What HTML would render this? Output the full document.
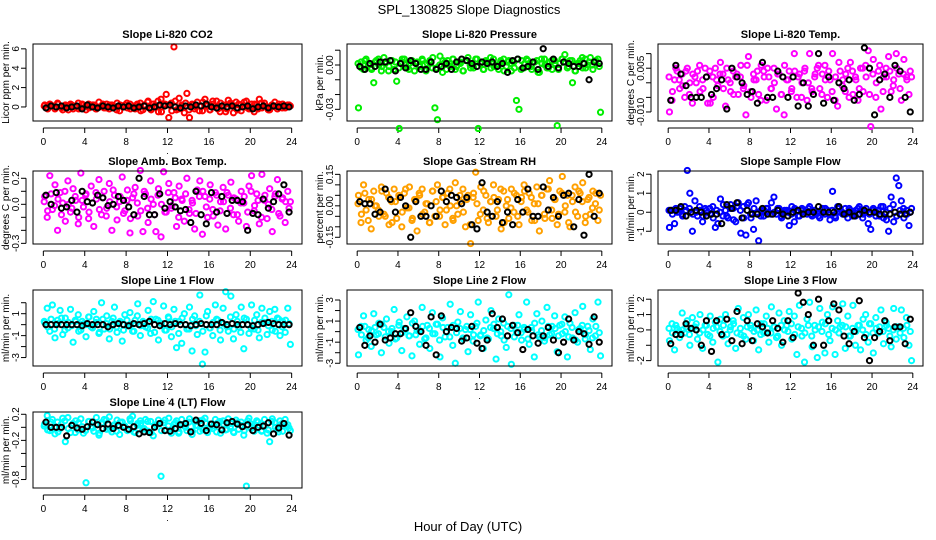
<!DOCTYPE html>
<html><head><meta charset="utf-8"><style>
html,body{margin:0;padding:0;background:#fff;}
svg{display:block;font-family:"Liberation Sans",sans-serif;}
</style></head><body>
<svg id="chart" width="936" height="540" viewBox="0 0 936 540" xmlns="http://www.w3.org/2000/svg">
<rect width="936" height="540" fill="#fff"/>
<text x="469" y="14" font-size="13" text-anchor="middle">SPL_130825  Slope Diagnostics</text>
<text x="468" y="531" font-size="13" text-anchor="middle">Hour of Day (UTC)</text>
</svg>
<script>
// ---- data (colored = all samples, core = additional samples, black = subset) ----
const co2Colored=[0.2,-0.1,0.3,0.1,-0.2,0.4,0.0,-0.3,0.2,0.1,0.3,-0.2,0.1,0.4,-0.1,0.2,-0.3,0.3,0.0,0.2,-0.2,0.5,0.1,-0.1,0.3,-0.2,0.2,0.0,0.4,-0.4,0.1,0.2,-0.1,0.3,0.0,-0.2,0.2,0.4,-0.3,0.1,0.6,-0.2,0.3,0.1,-0.5,0.8,0.2,1.3,-1.1,0.4,6.2,-0.3,0.9,0.2,-0.6,1.4,-1.1,0.3,-0.2,0.5,0.1,-0.4,0.8,0.2,-0.3,0.6,0.1,-0.2,0.4,0.0,-0.5,0.7,0.2,-0.6,0.5,0.3,-0.4,0.1,0.6,-0.2,0.3,-0.5,0.2,0.8,-0.1,0.4,0.0,-0.3,0.2,0.5,-0.2,0.1,0.3,-0.1,0.2,0.1];
const co2Core=[0.1,-0.2,0.2,0.0,0.3,-0.1,0.1,-0.3,0.2,0.0,-0.2,0.3,0.1,-0.1,0.2,-0.2,0.0,0.3,-0.1,0.2,0.1,-0.3,0.2,0.0,0.4,-0.2,0.1,0.3,-0.4,0.2,0.5,-0.3,0.1,0.6,-0.5,0.3,0.2,-0.4,0.6,-0.2,0.1,0.4,-0.3,0.2,0.0,-0.4,0.5,0.1,-0.3,0.3,0.6,-0.5,0.2,-0.2,0.4,0.1,-0.3,0.2,0.5,-0.1,0.0,0.3,-0.2,0.4,0.1,-0.3,0.2,0.0,0.3,-0.1,0.1,0.2];
const co2Black=[-0.1,0.1,0.0,0.1,-0.1,0.0,0.1,-0.2,0.2,0.0,-0.1,0.1,0.0,-0.1,0.1,0.0,0.1,-0.1,0.0,0.1,-0.1,0.0,0.2,0.1,0.2,0.0,-0.1,0.1,0.0,0.2,0.1,0.3,0.0,-0.1,0.1,0.0,0.1,-0.1,0.0,0.1,-0.2,0.0,0.1,-0.1,0.1,0.0,0.1,0.0];
const presColored=[-0.029,0.002,-0.003,0.004,0.001,-0.002,-0.012,0.003,0.000,-0.004,0.005,0.002,-0.001,0.003,-0.003,-0.011,-0.043,0.002,0.004,-0.002,0.001,0.003,-0.004,0.002,0.000,0.004,-0.003,0.001,0.003,-0.002,-0.029,-0.037,0.006,-0.005,0.002,0.003,-0.001,0.004,-0.003,0.002,0.001,-0.004,0.003,0.005,-0.002,0.000,0.004,-0.043,0.002,-0.003,0.003,0.001,-0.002,0.004,0.000,-0.003,0.002,0.004,-0.001,0.003,-0.004,0.002,-0.024,-0.030,0.003,-0.002,0.004,0.001,-0.003,0.002,0.003,-0.005,0.001,0.004,-0.002,0.002,-0.003,0.003,-0.041,0.001,0.004,0.007,-0.002,0.003,-0.012,-0.004,0.001,0.003,-0.002,0.004,0.000,0.005,-0.003,0.002,0.004,-0.032];
const presCore=[0.001,-0.002,0.003,0.000,-0.003,0.002,0.004,-0.001,0.001,-0.004,0.003,0.002,-0.002,0.004,0.000,-0.003,0.002,0.001,-0.001,0.003,-0.004,0.002,0.005,-0.002,0.000,0.003,-0.003,0.001,0.004,-0.001,0.002,-0.004,0.003,0.000,-0.002,0.004,0.001,-0.003,0.002,0.005,-0.001,0.000,0.003,-0.004,0.002,0.001,-0.002,0.004,-0.003,0.001,0.003,-0.001,0.002,-0.005,0.004,0.000,-0.002,0.003,0.001,-0.003,0.004,0.002,-0.001,0.003,-0.004,0.001,0.005,-0.002,0.002,0.000,0.003,-0.001];
const presBlack=[-0.001,-0.003,0.001,-0.001,0.002,0.002,0.003,-0.004,0.001,-0.002,0.003,0.001,-0.003,-0.003,0.002,-0.003,-0.001,0.001,-0.003,0.002,0.004,0.003,0.001,-0.001,0.002,0.001,0.002,-0.001,0.001,-0.005,0.003,0.004,-0.002,-0.001,0.002,-0.003,0.011,-0.001,0.004,-0.002,0.002,0.001,-0.001,-0.001,0.001,-0.010,0.002,0.001];
const tempColored=[-0.010,-0.006,0.001,0.004,-0.002,0.003,-0.005,0.005,0.000,-0.007,0.002,0.004,-0.003,0.001,0.005,-0.007,-0.007,0.002,0.005,-0.001,0.007,0.003,-0.008,0.001,-0.003,0.004,0.002,-0.004,0.006,-0.002,-0.011,0.009,-0.005,0.003,0.001,-0.004,0.006,0.004,-0.006,0.002,-0.002,0.005,-0.009,0.003,-0.004,-0.011,0.001,0.004,-0.002,0.010,-0.005,0.003,0.000,0.004,-0.006,0.010,-0.003,0.002,0.005,-0.002,0.003,0.006,-0.005,0.001,0.010,-0.006,-0.008,0.004,0.001,-0.003,0.005,0.007,-0.004,0.002,-0.006,0.005,-0.003,0.006,0.011,-0.015,0.008,-0.005,0.004,-0.009,0.002,0.005,0.009,-0.003,0.001,0.010,0.003,-0.006,0.008,0.002,-0.004,0.002];
const tempCore=[0.002,-0.003,0.005,0.001,-0.001,0.004,-0.004,0.003,0.000,0.006,-0.002,0.002,0.004,-0.005,0.001,0.003,-0.002,0.005,0.000,-0.004,0.003,0.002,-0.001,0.006,-0.003,0.001,0.004,-0.006,0.002,0.005,-0.002,0.000,0.003,-0.004,0.006,0.001,-0.003,0.004,0.002,-0.005,0.005,0.000,-0.002,0.003,0.006,-0.004,0.001,0.004,-0.003,0.002,0.007,-0.001,0.003,-0.005,0.004,0.001,-0.002,0.005,0.002,-0.004,0.003,0.000,0.006,-0.003,0.002,0.004,-0.001,0.005,-0.002,0.003,0.001,0.004];
const tempBlack=[-0.006,0.006,0.003,-0.001,-0.005,-0.005,-0.005,0.002,-0.004,-0.002,0.001,-0.009,0.005,0.002,0.000,-0.004,-0.003,-0.007,0.007,-0.005,-0.005,0.004,0.002,-0.005,0.002,-0.008,0.000,-0.008,-0.004,0.010,-0.007,0.002,-0.006,0.000,-0.002,0.001,-0.006,-0.004,0.012,0.005,-0.011,0.001,0.003,-0.005,0.006,0.004,-0.005,-0.010];
const ambColored=[0.06,-0.10,0.22,-0.04,0.15,-0.20,0.09,0.01,-0.13,0.18,-0.06,0.12,0.03,-0.15,0.24,-0.02,0.08,-0.11,0.14,-0.17,0.04,0.19,-0.08,0.10,-0.03,0.16,-0.20,0.07,-0.12,0.02,0.21,-0.05,0.11,-0.22,0.05,0.13,-0.09,0.26,-0.21,0.08,-0.14,0.18,0.00,-0.21,0.12,-0.25,0.25,-0.06,0.16,-0.03,0.09,-0.17,0.14,0.04,-0.13,0.20,-0.07,0.03,-0.19,0.11,0.18,-0.23,0.06,-0.10,0.15,-0.04,0.09,-0.16,0.02,0.13,-0.19,0.07,0.17,-0.08,0.04,-0.13,0.10,0.01,-0.17,0.14,0.22,-0.05,0.08,-0.15,0.23,0.03,-0.11,0.12,-0.21,0.06,0.19,-0.09,0.05,-0.14,0.10,0.02];
const ambCore=[0.02,-0.05,0.08,-0.01,0.04,-0.08,0.10,0.00,-0.03,0.06,-0.10,0.03,0.07,-0.06,0.01,0.09,-0.04,0.05,-0.09,0.02,0.11,-0.02,0.06,-0.07,0.03,-0.11,0.08,0.01,-0.05,0.10,-0.03,0.04,-0.08,0.07,0.00,-0.06,0.09,-0.01,0.05,-0.10,0.03,0.08,-0.04,0.01,-0.07,0.06,0.10,-0.02,0.04,-0.09,0.07,-0.05,0.02,0.09,-0.03,0.05,-0.08,0.01,0.06,-0.06,0.10,-0.01,0.03,-0.10,0.07,0.00,-0.04,0.08,-0.07,0.04,0.02,-0.03];
const ambBlack=[0.07,0.00,0.09,-0.03,-0.02,0.03,-0.06,0.10,0.02,0.01,0.07,0.05,-0.01,0.00,0.06,0.03,-0.02,-0.08,0.20,0.06,-0.08,-0.08,0.08,-0.03,0.02,-0.02,-0.05,-0.04,-0.14,0.10,-0.08,-0.15,0.09,-0.06,0.06,-0.07,0.03,0.03,0.02,-0.20,-0.07,-0.08,0.04,-0.03,0.02,0.08,0.15,-0.06];
const rhColored=[0.05,-0.08,0.10,-0.02,0.03,-0.11,0.07,0.00,-0.05,0.09,-0.04,0.06,-0.09,0.02,0.08,-0.06,0.04,-0.10,0.06,-0.01,0.09,-0.07,0.03,-0.12,0.05,0.08,-0.03,0.01,-0.08,0.07,-0.05,0.10,-0.02,0.04,-0.09,0.06,0.00,-0.06,0.11,-0.04,0.02,0.08,-0.10,0.05,-0.18,0.04,0.16,-0.07,0.09,-0.02,0.05,-0.08,0.02,0.10,-0.05,0.03,-0.11,0.07,0.00,-0.06,0.08,-0.03,0.05,-0.09,0.04,0.10,-0.02,0.06,-0.07,0.01,0.09,-0.12,0.05,-0.04,0.08,0.12,-0.06,0.03,-0.09,0.07,0.14,-0.03,0.05,-0.10,0.02,0.09,-0.05,0.06,0.11,-0.08,0.03,-0.04,0.07,0.01,-0.07,0.05];
const rhCore=[0.01,-0.04,0.06,-0.07,0.03,0.00,-0.02,0.07,-0.05,0.04,-0.08,0.02,0.05,-0.03,0.08,-0.01,-0.06,0.03,0.06,-0.04,0.01,-0.08,0.07,0.02,-0.05,0.04,-0.02,0.08,-0.07,0.00,0.05,-0.03,0.03,-0.09,0.06,0.01,-0.04,0.07,-0.06,0.02,0.04,-0.02,0.08,-0.08,0.03,-0.01,0.06,-0.05,0.02,0.07,-0.03,0.04,-0.07,0.01,0.05,-0.06,0.08,-0.02,0.03,-0.04,0.06,0.00,-0.08,0.05,-0.03,0.07,0.02,-0.05,0.04,-0.01,0.06,-0.02];
const rhBlack=[0.02,0.01,0.01,-0.04,-0.03,0.08,0.03,-0.03,0.04,0.00,-0.15,0.02,-0.05,-0.05,0.00,-0.05,0.07,0.02,0.05,0.04,0.01,0.04,-0.09,-0.11,0.11,-0.03,-0.05,0.02,-0.08,-0.03,-0.09,0.03,-0.03,0.08,-0.05,-0.05,0.09,-0.02,0.04,-0.05,0.05,0.06,-0.10,0.03,-0.14,0.15,-0.05,0.06];
const flowColored=[-0.8,0.1,-0.6,0.0,0.2,-0.1,0.3,2.2,1.0,-1.0,0.6,-0.2,0.1,-0.5,0.2,0.0,-0.1,0.3,-0.8,-0.6,0.7,-0.2,0.1,-0.3,0.4,0.2,-0.5,0.5,-1.1,0.3,-1.2,0.5,-0.3,-0.9,0.6,-1.5,0.1,-0.2,0.2,0.0,0.5,0.8,-0.1,0.2,-0.3,0.0,0.1,-0.7,0.3,-0.5,0.1,-0.2,0.2,0.0,-0.1,0.3,-0.2,0.1,0.0,-0.3,0.2,-0.1,0.1,-0.4,1.1,-0.2,0.3,0.0,-0.1,0.2,-0.3,0.1,0.0,-0.2,0.2,0.1,-0.1,0.0,-0.6,-0.9,0.2,-0.2,0.1,0.3,-0.3,0.0,-1.0,0.8,-0.5,1.8,1.4,0.6,-0.3,0.1,-0.7,0.2];
const flowCore=[0.1,-0.1,0.2,0.0,-0.2,0.1,0.2,-0.1,0.0,0.3,-0.2,0.1,0.2,-0.3,0.1,0.0,0.4,-0.2,0.2,-0.4,0.3,0.1,-0.3,0.4,-0.1,0.2,0.0,-0.2,0.1,0.2,-0.1,0.0,0.2,-0.2,0.1,0.0,-0.1,0.2,-0.2,0.1,0.0,0.2,-0.1,0.1,-0.2,0.0,0.2,-0.1,0.1,-0.3,0.2,0.0,-0.1,0.2,-0.2,0.1,0.3,-0.3,0.2,-0.1,0.1,0.0,-0.2,0.3,-0.4,0.2,0.4,-0.2,0.1,0.2,-0.1,0.0];
const flowBlack=[0.1,0.1,0.3,-0.2,0.0,0.1,0.0,-0.2,-0.1,-0.1,-0.6,0.4,0.2,0.5,-0.3,0.1,-0.1,-0.1,0.2,-0.1,-0.1,0.1,-0.1,-0.2,0.0,0.1,-0.1,0.0,0.0,0.3,0.0,0.0,0.0,0.3,-0.1,0.0,-0.2,-0.1,0.1,0.0,0.0,-0.1,-0.1,-0.1,0.0,-0.1,-0.1,0.0];
const line1Colored=[0.2,1.5,-0.6,1.8,-1.2,0.4,1.3,-0.9,0.6,-0.3,1.4,-1.6,0.3,0.9,-0.5,0.1,-1.1,0.7,-0.2,1.2,0.5,-0.8,2.0,-0.4,0.8,-1.3,0.3,1.6,-0.7,0.2,-1.5,0.9,-0.1,1.1,-0.6,0.4,1.9,-1.0,0.3,-0.2,1.3,-0.8,2.1,0.5,-1.4,0.1,1.7,-0.5,0.6,-1.1,1.4,-2.1,0.3,-1.7,1.0,-0.4,1.6,-2.4,0.8,-0.9,2.7,-3.6,-2.5,1.2,-0.3,-1.0,1.8,0.4,-1.4,1.5,3.0,-0.6,2.6,-1.3,0.9,-0.2,1.6,-2.2,0.5,-0.8,1.8,-0.4,0.9,-1.2,1.5,0.2,-0.9,1.2,-0.5,1.4,0.6,-1.0,0.3,-0.7,1.5,-1.8];
const line1Core=[0.3,-0.2,0.5,-0.4,0.1,0.6,-0.5,0.2,-0.1,0.4,-0.6,0.3,0.0,0.7,-0.3,0.2,-0.7,0.5,0.1,-0.4,0.6,-0.2,0.3,-0.5,0.4,0.0,-0.6,0.8,-0.1,0.2,-0.3,0.5,-0.7,0.4,0.1,-0.5,0.7,-0.2,0.3,-0.8,0.6,0.0,-0.4,0.5,-0.1,0.3,-0.6,0.8,-0.3,0.2,0.5,-0.5,0.1,-0.2,0.7,-0.4,0.3,-0.7,0.6,0.0,-0.3,0.4,-0.5,0.2,0.6,-0.1,0.3,-0.6,0.5,-0.2,0.4,0.1];
const line1Black=[0.0,0.0,0.0,0.0,0.0,0.0,0.0,-0.1,0.1,0.0,0.0,0.0,-0.2,0.0,0.1,0.0,-0.1,0.1,0.0,0.1,0.3,0.0,-0.1,0.1,0.0,0.1,0.0,0.0,-0.1,0.0,0.1,0.0,0.0,0.0,0.2,0.0,0.1,0.0,0.0,0.0,-0.1,0.0,0.1,0.2,0.1,0.0,0.0,0.0];
const line2Colored=[-2.2,0.5,1.5,-0.8,0.2,-1.4,1.7,-0.3,0.8,-2.0,0.4,1.2,-1.1,0.0,2.1,-0.6,0.9,-1.8,0.3,1.4,-0.4,-2.3,1.0,0.1,-1.2,2.3,-0.7,0.6,-1.6,1.8,-0.2,0.7,-2.4,1.3,-0.5,0.4,2.6,-1.3,-3.0,0.9,1.9,-0.6,0.2,-1.9,1.6,-0.9,0.5,2.8,-0.3,-1.6,1.1,-0.7,2.0,0.3,-2.6,1.2,-0.4,0.8,-1.5,3.5,-3.1,0.6,-0.1,1.6,-0.8,0.4,2.8,-1.2,0.1,-2.4,1.7,-0.5,1.0,-0.9,2.3,-0.3,0.5,1.5,-1.9,0.6,-0.2,1.4,-2.4,0.8,-0.6,1.8,-1.0,0.3,2.4,-0.7,0.5,-1.7,1.2,-0.4,2.8,-2.3];
const line2Core=[0.2,-0.3,0.5,-0.6,0.1,0.4,-0.2,0.7,-0.5,0.0,0.3,-0.7,0.6,-0.1,0.2,-0.4,0.8,-0.3,0.1,0.5,-0.6,0.3,-0.2,0.7,-0.8,0.4,0.0,-0.5,0.6,-0.1,0.3,-0.7,0.5,0.2,-0.3,0.8,-0.4,0.1,-0.6,0.4,0.7,-0.2,0.0,-0.8,0.5,0.3,-0.5,0.6,-0.1,0.2,-0.7,0.4,0.8,-0.3,0.1,-0.6,0.5,-0.2,0.3,-0.4,0.7,0.0,-0.5,0.4,-0.8,0.2,0.6,-0.3,0.1,-0.6,0.5,-0.1];
const line2Black=[0.4,-1.3,-0.4,-1.0,0.7,-0.8,-0.6,-0.2,-0.2,0.3,1.8,0.5,0.0,-1.3,1.4,-2.2,1.5,0.0,0.4,0.3,-0.9,-0.6,0.5,-1.1,-1.6,-0.8,1.7,0.4,1.2,-0.4,0.6,-0.1,-1.7,0.2,-0.4,-1.1,-0.4,0.4,-0.8,-2.0,-1.0,1.2,-0.8,0.0,-0.2,-1.2,1.4,-1.0];
const line3Colored=[-0.7,0.4,-1.3,0.1,-0.5,1.1,-0.2,0.6,-1.0,0.8,0.2,-0.6,1.0,-1.2,0.3,-0.3,0.9,-0.8,0.5,-2.1,0.7,-0.4,1.0,-0.9,0.2,0.6,-1.2,1.4,-0.3,0.8,-0.6,1.0,0.1,-0.7,1.3,-1.3,0.4,-0.2,0.9,-0.8,1.5,0.2,-0.5,1.1,-1.0,0.6,0.3,1.2,-0.6,0.9,-1.6,1.6,-0.4,-2.1,0.7,1.8,-1.1,0.3,-1.8,1.4,0.5,-1.5,1.0,-0.7,1.5,-1.6,0.6,0.2,1.7,-1.2,0.9,-0.4,1.6,-1.0,0.3,-1.3,0.7,1.0,-0.8,0.4,-1.5,0.8,-0.2,1.3,-0.9,0.5,0.1,-1.1,1.4,-0.6,0.2,1.3,-0.5,0.8,-1.0,-2.0];
const line3Core=[0.1,-0.2,0.3,-0.1,0.0,0.2,-0.3,0.1,0.4,-0.2,0.0,0.3,-0.4,0.1,0.2,-0.1,0.3,-0.3,0.0,0.4,-0.2,0.1,-0.4,0.2,0.3,-0.1,0.0,-0.3,0.4,0.1,-0.2,0.2,-0.4,0.3,0.0,-0.1,0.4,-0.3,0.2,0.1,-0.2,0.3,-0.4,0.0,0.2,-0.1,0.4,-0.3,0.1,0.0,-0.2,0.3,0.2,-0.4,0.1,-0.1,0.3,0.0,-0.3,0.4,-0.2,0.1,0.2,-0.1,0.3,-0.4,0.0,0.2,-0.2,0.1,0.3,-0.1];
const line3Black=[-0.9,-0.3,-0.3,0.4,0.1,0.0,-1.0,0.6,-1.4,0.6,-0.3,0.7,-0.7,1.2,-0.9,0.6,-0.7,0.4,0.2,-0.2,0.6,0.1,-0.8,0.6,-0.5,2.4,1.8,1.0,-1.0,2.0,-1.0,0.6,1.7,1.3,-0.4,-0.9,-0.1,1.9,-0.5,-2.0,-0.5,-0.1,0.6,-0.7,0.2,0.2,-0.9,0.7];
const line4Colored=[0.05,0.18,-0.05,0.12,-0.10,0.08,-0.02,0.14,-0.22,0.15,-0.08,0.06,0.10,-0.04,0.13,-0.09,-0.85,0.09,0.01,-0.06,0.15,-0.12,0.07,0.12,-0.03,0.16,-0.07,0.04,0.11,-0.11,0.08,0.02,-0.05,0.13,0.17,-0.08,0.06,0.10,-0.03,0.12,-0.06,0.09,-0.13,0.04,0.11,-0.75,0.07,-0.04,0.14,-0.09,0.05,0.10,-0.07,0.12,0.02,-0.05,0.13,-0.11,0.08,0.03,-0.06,0.11,0.14,-0.08,0.05,-0.02,0.12,0.07,-0.09,0.10,-0.04,0.13,0.06,-0.07,0.11,-0.03,0.08,-0.12,-0.90,0.14,0.05,-0.06,0.10,0.03,-0.05,0.12,-0.09,-0.22,0.13,0.07,-0.03,0.10,-0.06,0.12,0.04,-0.05];
const line4Core=[0.02,-0.04,0.08,0.00,-0.07,0.05,0.10,-0.02,0.03,-0.08,0.07,0.01,-0.05,0.09,-0.01,0.04,-0.09,0.06,0.11,-0.03,0.02,-0.06,0.08,0.00,-0.04,0.10,-0.07,0.03,0.06,-0.02,0.09,-0.08,0.01,0.05,-0.05,0.11,0.02,-0.03,0.07,-0.09,0.04,0.00,0.08,-0.06,0.03,0.10,-0.04,0.06,-0.01,0.02,-0.07,0.09,0.05,-0.03,0.01,-0.08,0.07,0.03,-0.05,0.10,-0.02,0.04,0.08,-0.06,0.02,-0.04,0.09,0.00,-0.07,0.06,0.03,-0.01];
const line4Black=[0.08,0.00,0.00,0.00,-0.13,0.03,-0.01,-0.03,0.01,0.08,0.04,-0.02,0.05,-0.02,0.03,0.00,-0.03,0.01,-0.10,-0.07,-0.08,0.00,0.06,-0.05,-0.06,-0.02,0.04,0.06,-0.07,0.11,0.06,-0.05,0.05,0.04,-0.04,0.07,0.09,0.05,0.01,0.04,-0.05,0.00,0.02,0.07,-0.10,-0.01,0.06,-0.12];
const xTicks=[0,4,8,12,16,20,24];
const panelTitles=["Slope Li-820 CO2","Slope Li-820 Pressure","Slope Li-820 Temp.","Slope Amb. Box Temp.","Slope Gas Stream RH","Slope Sample Flow","Slope Line 1 Flow","Slope Line 2 Flow","Slope Line 3 Flow","Slope Line 4 (LT) Flow"];
const yTitles=["Licor ppm per min.","kPa per min.","degrees C per min.","degrees C per min.","percent per min.","ml/min per min.","ml/min per min.","ml/min per min.","ml/min per min.","ml/min per min."];
const yTickVals=[[0,2,4,6],[0.01,0,-0.01,-0.02,-0.03],[0.01,0.005,0,-0.005,-0.01],[0.2,0.1,0,-0.1,-0.2,-0.3],[0.15,0.1,0.05,0,-0.05,-0.1,-0.15],[2,1,0,-1],[2,1,0,-1,-2,-3],[3,2,1,0,-1,-2,-3],[2,1,0,-1,-2],[0.2,0,-0.2,-0.4,-0.6,-0.8]];
const yTickLabels=[["0","2","4","6"],["","0.00","","","-0.03"],["","0.005","","","-0.010"],["0.2","","0.0","","","-0.3"],["0.15","","","0.00","","","-0.15"],["2","1","0","-1"],["","1","","-1","","-3"],["3","","1","","-1","","-3"],["2","1","0","","-2"],["0.2","","-0.2","","","-0.8"]];
const yRanges=[[-1.45,6.5],[-0.0379,0.0142],[-0.0131,0.0133],[-0.305,0.256],[-0.182,0.166],[-1.67,2.17],[-3.77,3.16],[-3.26,3.95],[-2.35,2.6],[-0.93,0.235]];
const coloredSeries=[co2Colored,presColored,tempColored,ambColored,rhColored,flowColored,line1Colored,line2Colored,line3Colored,line4Colored];
const coreSeries=[co2Core,presCore,tempCore,ambCore,rhCore,flowCore,line1Core,line2Core,line3Core,line4Core];
const blackSeries=[co2Black,presBlack,tempBlack,ambBlack,rhBlack,flowBlack,line1Black,line2Black,line3Black,line4Black];
const seriesColors=["#ff0000","#00ee00","#ff00ff","#ff00ff","#ffa000","#0000ff","#00ffff","#00ffff","#00ffff","#00ffff"];

// ---- layout ----
const colX=[[33,302],[347,612],[658,923]];
const rowY=[[44,121],[171,244],[290,366],[412,488]];
const NS="http://www.w3.org/2000/svg";
const svg=document.getElementById('chart');
function mk(tag,attrs,parent){const e=document.createElementNS(NS,tag);for(const k in attrs)e.setAttribute(k,attrs[k]);(parent||svg).appendChild(e);return e;}

panelTitles.forEach((title,p)=>{
  const [x0,x1]=colX[p%3];const [y0,y1]=rowY[Math.floor(p/3)];
  const [ymin,ymax]=yRanges[p];
  const xs=h=>x0+(h+1.0)/26*(x1-x0);
  const ys=v=>y1-(v-ymin)/(ymax-ymin)*(y1-y0);
  const g=mk('g',{});
  
  
  const t=mk('text',{x:(x0+x1)/2,y:y0-6,'font-size':11,'font-weight':'bold','text-anchor':'middle'},g);
  t.textContent=title;
  
  
  const yt=mk('text',{x:0,y:0,'font-size':10,'text-anchor':'middle',transform:`translate(${x0-24},${(y0+y1)/2}) rotate(-90)`},g);
  yt.textContent=yTitles[p];
  
  
  const xa=mk('g',{},g);
  
  
  mk('line',{x1:xs(0),x2:xs(24),y1:y1+7,y2:y1+7,stroke:'#000'},xa);
  xTicks.forEach(v=>{
    mk('line',{x1:xs(v),x2:xs(v),y1:y1+7,y2:y1+12,stroke:'#000'},xa);
    const l=mk('text',{x:xs(v),y:y1+24,'font-size':10,'text-anchor':'middle'},xa);
    l.textContent=String(v);
    
    
  });
  const dot=mk('text',{x:(x0+x1)/2,y:y1+33,'font-size':9,'text-anchor':'middle'},xa);
  dot.textContent='.';
  const ya=mk('g',{},g);
  
  
  const tv=yTickVals[p];
  mk('line',{x1:x0-7,x2:x0-7,y1:ys(tv[0]),y2:ys(tv[tv.length-1]),stroke:'#000'},ya);
  tv.forEach((v,i)=>{
    mk('line',{x1:x0-12,x2:x0-7,y1:ys(v),y2:ys(v),stroke:'#000'},ya);
    const s=yTickLabels[p][i];
    if(s){const l=mk('text',{x:0,y:0,'font-size':10,'text-anchor':'middle',transform:`translate(${x0-14},${ys(v)}) rotate(-90)`},ya);
      l.textContent=s;
      
      }
  });
  const cs=coloredSeries[p];
  cs.forEach((v,i)=>{
    const c=mk('circle',{cx:xs((i+0.5)*24/cs.length),cy:ys(v),r:2.6,fill:'none',stroke:seriesColors[p],'stroke-width':2},g);
    
    
  });
  const cr=coreSeries[p];
  cr.forEach((v,i)=>{
    const c=mk('circle',{cx:xs((i+0.25)*24/cr.length),cy:ys(v),r:2.6,fill:'none',stroke:seriesColors[p],'stroke-width':2},g);
    
    
  });
  const bs=blackSeries[p];
  bs.forEach((v,i)=>{
    const c=mk('circle',{cx:xs((i+0.5)*24/bs.length),cy:ys(v),r:2.6,fill:'none',stroke:'#000','stroke-width':2},g);
    
    
  });
  const box=mk('rect',{x:x0,y:y0,width:x1-x0,height:y1-y0,fill:'none',stroke:'#000'},g);
  
  
});
</script>
</body></html>
